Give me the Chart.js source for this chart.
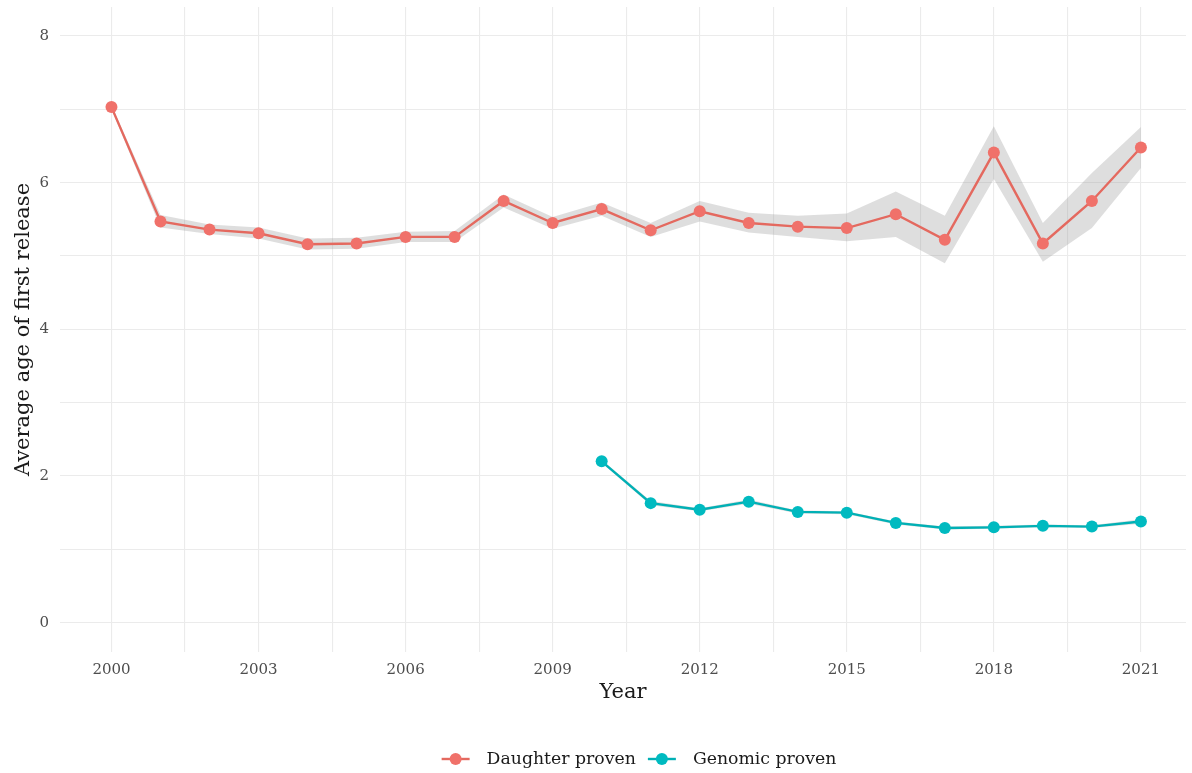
<!DOCTYPE html>
<html>
<head>
<meta charset="utf-8">
<script src="https://cdn.jsdelivr.net/npm/chart.js@4.4.1/dist/chart.umd.min.js"></script>
<style>
  html, body { margin: 0; padding: 0; background: #ffffff; overflow: hidden; }
  #chart { display: block; width: 1192px; height: 773px; }
</style>
</head>
<body>
<canvas id="chart" width="1192" height="773"></canvas>
<script>
// Average age of first release by year, with confidence band
const years = [2000, 2001, 2002, 2003, 2004, 2005, 2006, 2007, 2008, 2009, 2010,
               2011, 2012, 2013, 2014, 2015, 2016, 2017, 2018, 2019, 2020, 2021];
const daughterMean = [7.03, 5.47, 5.36, 5.31, 5.16, 5.17, 5.26, 5.26, 5.75, 5.45, 5.64,
                      5.35, 5.61, 5.45, 5.40, 5.38, 5.57, 5.22, 6.41, 5.17, 5.75, 6.48];
const daughterLow  = [7.00, 5.39, 5.30, 5.24, 5.09, 5.10, 5.19, 5.19, 5.66, 5.37, 5.55,
                      5.26, 5.47, 5.32, 5.26, 5.20, 5.26, 4.90, 6.05, 4.92, 5.38, 6.20];
const daughterHigh = [7.06, 5.56, 5.43, 5.39, 5.24, 5.25, 5.33, 5.34, 5.84, 5.53, 5.73,
                      5.45, 5.75, 5.59, 5.55, 5.58, 5.88, 5.55, 6.77, 5.45, 6.13, 6.76];

const genomicYears = [2010, 2011, 2012, 2013, 2014, 2015, 2016, 2017, 2018, 2019, 2020, 2021];
const genomicMean = [2.20, 1.63, 1.54, 1.65, 1.51, 1.50, 1.36, 1.29, 1.30, 1.32, 1.31, 1.38];
const genomicLow  = [2.18, 1.60, 1.52, 1.62, 1.49, 1.48, 1.34, 1.27, 1.28, 1.30, 1.29, 1.35];
const genomicHigh = [2.22, 1.66, 1.56, 1.68, 1.53, 1.52, 1.38, 1.31, 1.32, 1.34, 1.33, 1.41];

const seriesNames = ['Daughter proven', 'Genomic proven'];
const xTickLabels = [2000, 2003, 2006, 2009, 2012, 2015, 2018, 2021];
const yTickLabels = [0, 2, 4, 6, 8];

const RED = '#F0716A', RED_LINE = '#E4695F';
const TEAL = '#00BAC0', TEAL_LINE = '#00B0B5';
const BAND = 'rgba(153,153,153,0.32)';
const GRID = '#EBEBEB';
const FONT = '"DejaVu Serif", serif';

// panel spans 1998.95..2022.05; the canvas cuts it a little before the right end
const X_MIN = 1998.95, X_MAX = 2021.92;
const LEGEND_CENTER_X = 639, LEGEND_Y = 759;

const pts = (xs, ys) => xs.map((x, i) => ({ x: x, y: ys[i] }));

// major ticks plus a minor gridline halfway between each pair
const xGrid = [];
xTickLabels.forEach((v, i) => {
  xGrid.push(v);
  if (i < xTickLabels.length - 1) xGrid.push((v + xTickLabels[i + 1]) / 2);
});
const yGrid = [];
yTickLabels.forEach((v, i) => {
  yGrid.push(v);
  if (i < yTickLabels.length - 1) yGrid.push((v + yTickLabels[i + 1]) / 2);
});

function band(xs, hi, lo, order) {
  return [
    { data: pts(xs, hi), fill: '+1', backgroundColor: BAND, borderWidth: 0,
      pointRadius: 0, showLine: true, order: order, isBand: true },
    { data: pts(xs, lo), fill: false, borderWidth: 0, pointRadius: 0,
      showLine: true, order: order, isBand: true }
  ];
}

const datasets = [
  ...band(years, daughterHigh, daughterLow, 5),
  ...band(genomicYears, genomicHigh, genomicLow, 5),
  { label: seriesNames[0], data: pts(years, daughterMean), borderColor: RED_LINE,
    backgroundColor: RED, pointBackgroundColor: RED, pointBorderWidth: 0,
    pointRadius: 6, borderWidth: 2.4, tension: 0, fill: false, showLine: true, order: 1 },
  { label: seriesNames[1], data: pts(genomicYears, genomicMean), borderColor: TEAL_LINE,
    backgroundColor: TEAL, pointBackgroundColor: TEAL, pointBorderWidth: 0,
    pointRadius: 6, borderWidth: 2.4, tension: 0, fill: false, showLine: true, order: 1 }
];

// legend along the bottom: line-and-dot key followed by the series name
const bottomLegend = {
  id: 'bottomLegend',
  afterDraw(chart) {
    const ctx = chart.ctx;
    const items = chart.data.datasets.filter(d => !d.isBand);
    ctx.save();
    ctx.font = '17.3px ' + FONT;
    const keyW = 28, keyGap = 17, itemGap = 12;
    const widths = items.map(d => ctx.measureText(d.label).width);
    const total = widths.reduce((a, w) => a + keyW + keyGap + w, 0) + itemGap * (items.length - 1);
    let x = LEGEND_CENTER_X - total / 2;
    const y = LEGEND_Y;
    items.forEach((d, i) => {
      ctx.strokeStyle = d.borderColor;
      ctx.lineWidth = 2.4;
      ctx.beginPath(); ctx.moveTo(x, y); ctx.lineTo(x + keyW, y); ctx.stroke();
      ctx.fillStyle = d.pointBackgroundColor;
      ctx.beginPath(); ctx.arc(x + keyW / 2, y, 6, 0, Math.PI * 2); ctx.fill();
      ctx.fillStyle = '#1A1A1A';
      ctx.textBaseline = 'middle';
      ctx.textAlign = 'left';
      ctx.fillText(d.label, x + keyW + keyGap, y + 1);
      x += keyW + keyGap + widths[i] + itemGap;
    });
    ctx.restore();
  }
};

new Chart(document.getElementById('chart'), {
  type: 'scatter',
  data: { datasets: datasets },
  plugins: [bottomLegend],
  options: {
    responsive: false,
    maintainAspectRatio: false,
    devicePixelRatio: 1,
    animation: false,
    events: [],
    layout: { padding: { top: 7, left: 0, right: 0, bottom: 68 } },
    plugins: { legend: { display: false }, tooltip: { enabled: false } },
    scales: {
      x: {
        type: 'linear', min: X_MIN, max: X_MAX,
        border: { display: false },
        grid: { color: GRID, lineWidth: 1.1, drawTicks: false },
        afterBuildTicks: s => { s.ticks = xGrid.map(v => ({ value: v })); },
        ticks: {
          autoSkip: false, maxRotation: 0, padding: 9, color: '#4D4D4D',
          font: { family: FONT, size: 15 },
          callback: v => xTickLabels.includes(v) ? String(v) : ''
        },
        title: { display: true, text: 'Year', color: '#1A1A1A',
                 font: { family: FONT, size: 21 }, padding: { top: 0, bottom: 0 } },
        afterFit: s => { s.height = 53; s.paddingLeft = 0; s.paddingRight = 0; }
      },
      y: {
        type: 'linear', min: -0.40, max: 8.395,
        border: { display: false },
        grid: { color: GRID, lineWidth: 1.1, drawTicks: false },
        afterBuildTicks: s => { s.ticks = yGrid.map(v => ({ value: v })); },
        ticks: {
          autoSkip: false, padding: 11, color: '#4D4D4D',
          font: { family: FONT, size: 15 },
          callback: v => yTickLabels.includes(v) ? String(v) : ''
        },
        title: { display: true, text: 'Average age of first release', color: '#1A1A1A',
                 font: { family: FONT, size: 21 }, padding: { top: 11, bottom: 0 } },
        afterFit: s => { s.width = 60; s.paddingTop = 0; s.paddingBottom = 0; }
      }
    }
  }
});
</script>
</body>
</html>
